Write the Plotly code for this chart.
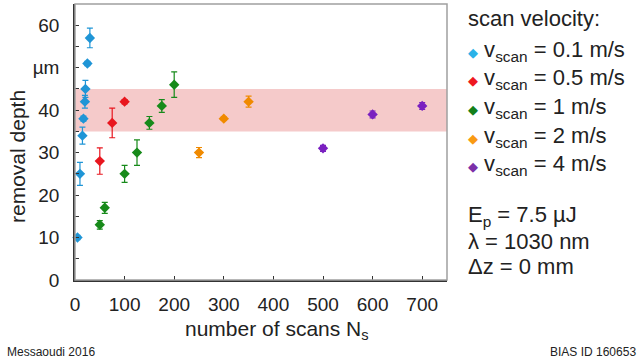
import plotly.graph_objects as go

# removal depth (µm) vs. number of scans, one series per scan velocity
velocity_labels = ["0.1 m/s", "0.5 m/s", "1 m/s", "2 m/s", "4 m/s"]
marker_colors = ["#1f95d6", "#e8161e", "#178a1a", "#f08a00", "#7a20c0"]
legend_colors = ["#2ab2e8", "#ee1820", "#13801a", "#f99a12", "#7b30a8"]

scans_01 = [5, 10, 15, 17, 20, 21, 25, 30]
depth_01 = [10, 25, 34, 38, 42, 45, 51, 57]
err_01 = [0.5, 2.7, 2.0, 0.6, 1.5, 2.0, 0.5, 2.3]

scans_05 = [50, 75, 100]
depth_05 = [28, 37, 42]
err_05 = [3.1, 3.5, 0.5]

scans_1 = [50, 60, 100, 125, 150, 175, 200]
depth_1 = [13, 17, 25, 30, 37, 41, 46]
err_1 = [1.0, 1.3, 2.0, 3.0, 1.5, 1.5, 3.0]

scans_2 = [250, 300, 350]
depth_2 = [30, 38, 42]
err_2 = [1.2, 0.4, 1.3]

scans_4 = [500, 600, 700]
depth_4 = [31, 39, 41]
err_4 = [0.7, 0.8, 0.8]

band_low, band_high = 35, 45

y_tick_vals = [0, 10, 20, 30, 40, 50, 60]
y_tick_text = ["0", "10", "20", "30", "40", "µm", "60"]
x_tick_vals = [0, 100, 200, 300, 400, 500, 600, 700]

process_lines = ["E<sub>p</sub> = 7.5 µJ", "λ = 1030 nm", "Δz = 0 mm"]

series = [
    (scans_01, depth_01, err_01),
    (scans_05, depth_05, err_05),
    (scans_1, depth_1, err_1),
    (scans_2, depth_2, err_2),
    (scans_4, depth_4, err_4),
]

FONT = "Liberation Sans, Arial, sans-serif"
TEXT = "#222222"

fig = go.Figure()

for (xs, ys, es), col, lab in zip(series, marker_colors, velocity_labels):
    fig.add_trace(go.Scatter(
        x=xs, y=ys, mode="markers", name=lab, showlegend=False,
        marker=dict(symbol="diamond", size=8, color=col),
        error_y=dict(type="data", array=es, visible=True,
                     color=col, thickness=1.2, width=3),
        cliponaxis=False,
    ))

# tolerance band
fig.add_shape(type="rect", xref="paper", yref="y", x0=0, x1=1,
              y0=band_low, y1=band_high, layer="below",
              fillcolor="#f5caca", line=dict(width=0))
# light frame around plot area
fig.add_shape(type="rect", xref="paper", yref="paper", x0=0, x1=1, y0=0, y1=1,
              layer="above", line=dict(color="#a0a0a0", width=1.5))

fig.update_xaxes(
    range=[0, 750], tickvals=x_tick_vals, ticks="inside", ticklen=4,
    tickcolor="#333", showline=True, linecolor="#333", linewidth=1.5,
    showgrid=False, zeroline=False, ticklabelstandoff=6,
    tickfont=dict(family=FONT, size=19, color=TEXT),
)
fig.update_yaxes(
    range=[0, 65], tickvals=y_tick_vals, ticktext=y_tick_text,
    ticks="inside", ticklen=4, tickcolor="#333",
    minor=dict(dtick=5, tick0=0, ticks="inside", ticklen=4, tickcolor="#333"),
    showline=True, linecolor="#333", linewidth=1.5,
    showgrid=False, zeroline=False, ticklabelstandoff=10,
    tickfont=dict(family=FONT, size=19, color=TEXT),
)

annotations = [
    dict(text="removal depth", xref="paper", yref="paper", x=-0.153, y=0.446,
         textangle=-90, showarrow=False, font=dict(family=FONT, size=21, color=TEXT),
         xanchor="center", yanchor="middle"),
    dict(text="number of scans N<sub>s</sub>", xref="paper", yref="paper",
         x=0.543, y=-0.18, showarrow=False,
         font=dict(family=FONT, size=21, color=TEXT), xanchor="center", yanchor="middle"),
    dict(text="scan velocity:", xref="paper", yref="paper", x=1.051, y=0.949,
         showarrow=False, font=dict(family=FONT, size=22, color=TEXT),
         xanchor="left", yanchor="middle"),
    dict(text="Messaoudi 2016", xref="paper", yref="paper", x=-0.188, y=-0.261,
         showarrow=False, font=dict(family=FONT, size=12, color=TEXT),
         xanchor="left", yanchor="middle"),
    dict(text="BIAS ID 160653", xref="paper", yref="paper", x=1.513, y=-0.261,
         showarrow=False, font=dict(family=FONT, size=12, color=TEXT),
         xanchor="right", yanchor="middle"),
]

row_y0 = 0.831
row_step = 0.104
for i, (col, lab) in enumerate(zip(legend_colors, velocity_labels)):
    annotations.append(dict(
        text=f"<span style='color:{col};font-size:13px'>◆</span> v<sub>scan</sub> = {lab}",
        xref="paper", yref="paper", x=1.051, y=row_y0 - i * row_step,
        showarrow=False, font=dict(family=FONT, size=22, color=TEXT),
        xanchor="left", yanchor="middle",
    ))

for i, line in enumerate(process_lines):
    annotations.append(dict(
        text=line, xref="paper", yref="paper", x=1.051, y=0.233 - i * 0.092,
        showarrow=False, font=dict(family=FONT, size=22, color=TEXT),
        xanchor="left", yanchor="middle",
    ))

fig.update_layout(
    width=640, height=363,
    margin=dict(l=75, r=193, t=4, b=83),
    paper_bgcolor="white", plot_bgcolor="white",
    annotations=annotations,
)

fig.write_html("out.html")
